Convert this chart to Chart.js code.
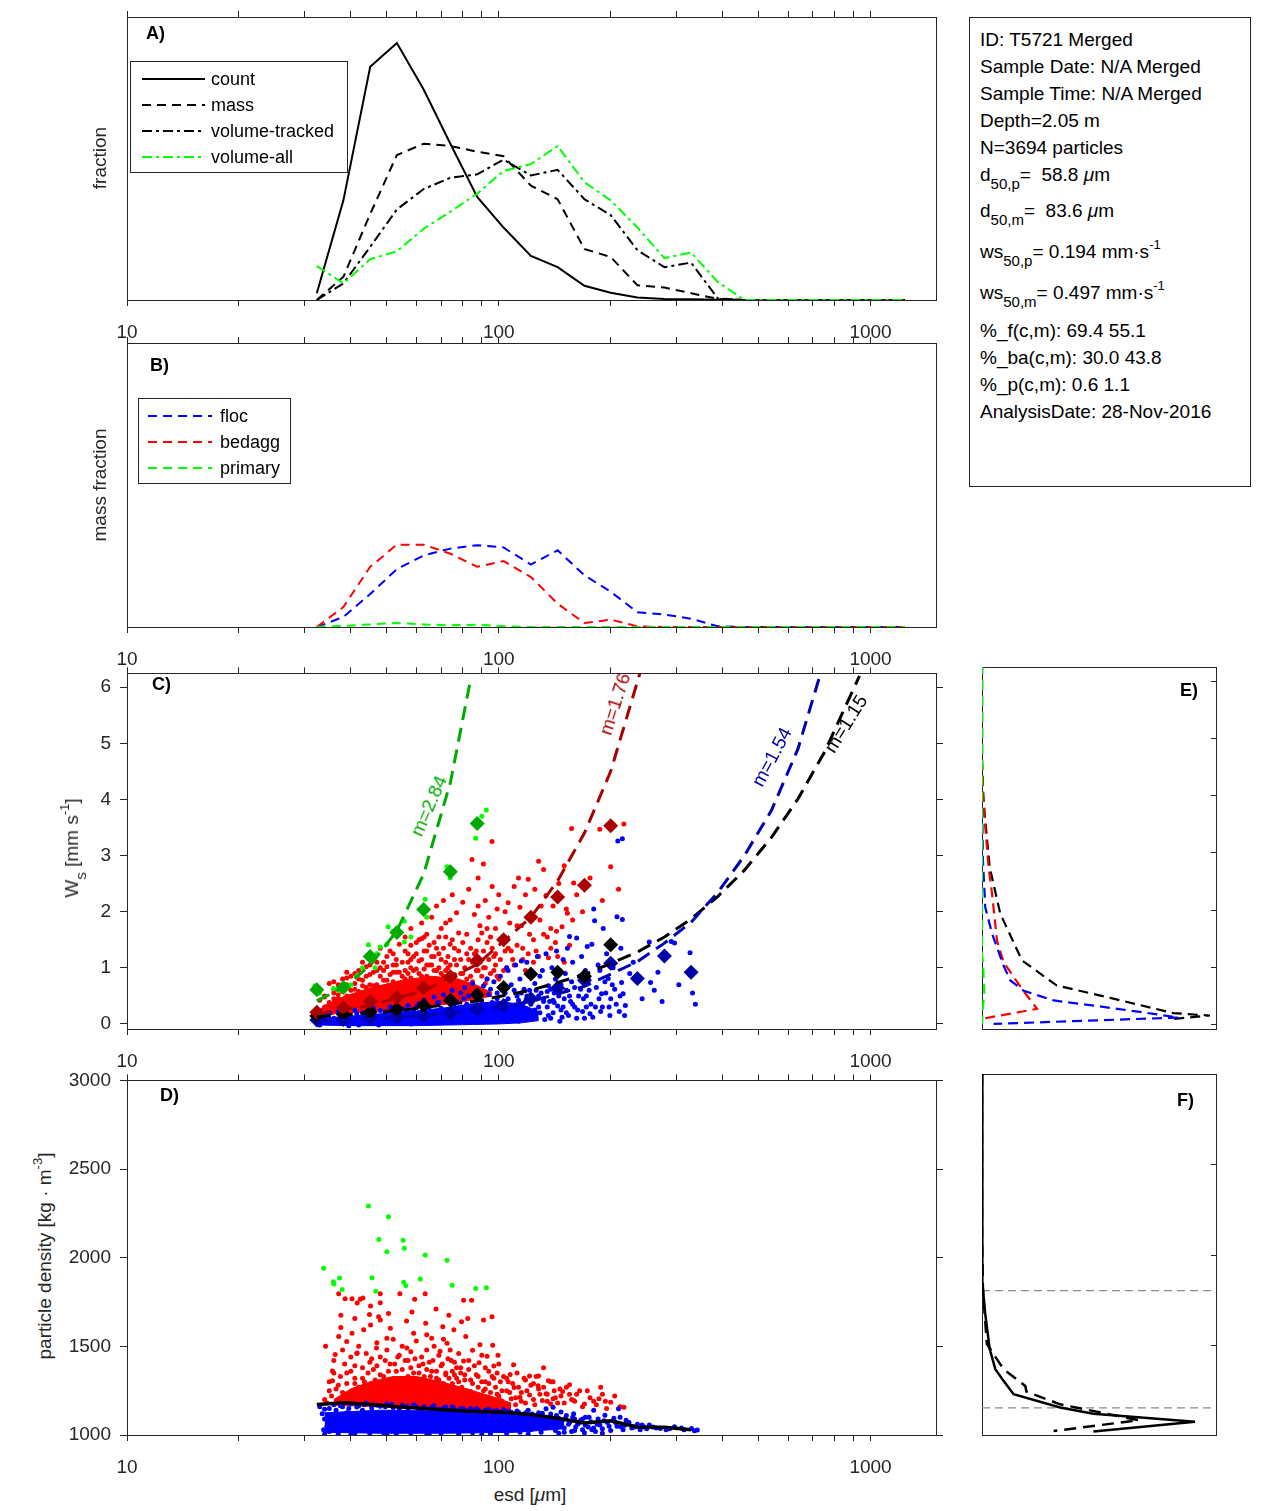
<!DOCTYPE html>
<html>
<head>
<meta charset="utf-8">
<script src="https://cdn.jsdelivr.net/npm/chart.js@4.4.0/dist/chart.umd.min.js"></script>
<style>
  body { margin: 0; background: #fff; width: 1270px; height: 1511px; position: relative; overflow: hidden;
         font-family: "Liberation Sans", Arial, Helvetica, sans-serif; color: #262626; }
  canvas { position: absolute; }
  .t { position: absolute; white-space: pre; font-size: 19px; line-height: 27px; }
  .rot { position: absolute; white-space: pre; font-size: 19px; transform: translate(-50%, -50%) rotate(var(--r)); }
  .pl { position: absolute; font-weight: bold; font-size: 18px; color: #000; transform: translateY(-50%); }
  .sb { font-size: 15px; position: relative; top: 8px; }
  .sp { font-size: 13px; position: relative; top: -9px; }
  #info { position: absolute; left: 969px; top: 17px; width: 282px; height: 470px; box-sizing: border-box;
          border: 1px solid #262626; color: #000; }
  #info .t { left: 10px; }
</style>
</head>
<body>
<canvas id="cA"></canvas>
<canvas id="cB"></canvas>
<canvas id="cC"></canvas>
<canvas id="cD"></canvas>
<canvas id="cE"></canvas>
<canvas id="cF"></canvas>

<!-- axis titles -->
<div class="rot" style="left:100px;top:158px;--r:-90deg">fraction</div>
<div class="rot" style="left:100px;top:485px;--r:-90deg">mass fraction</div>
<div class="rot" style="left:72px;top:848px;--r:-90deg">W<span class="sb">s</span> [mm s<span class="sp">-1</span>]</div>
<div class="rot" style="left:45px;top:1256px;--r:-90deg">particle density [kg · m<span class="sp">-3</span>]</div>
<div class="rot" style="left:530px;top:1495px;--r:0deg">esd [<i>μ</i>m]</div>

<!-- panel letters -->
<div class="pl" style="left:146px;top:33px">A)</div>
<div class="pl" style="left:150px;top:365px">B)</div>
<div class="pl" style="left:152px;top:684px">C)</div>
<div class="pl" style="left:160px;top:1095px">D)</div>
<div class="pl" style="left:1180px;top:690px">E)</div>
<div class="pl" style="left:1177px;top:1100px">F)</div>

<!-- fit annotations -->
<div class="rot" style="left:429px;top:806px;--r:-66deg;color:#00aa00">m=2.84</div>
<div class="rot" style="left:615px;top:704px;--r:-72deg;color:#aa0000">m=1.76</div>
<div class="rot" style="left:772px;top:757px;--r:-62deg;color:#0000aa">m=1.54</div>
<div class="rot" style="left:846px;top:724px;--r:-58deg;color:#000">m=1.15</div>

<div id="info">
  <div class="t" style="top:8px">ID: T5721 Merged</div>
  <div class="t" style="top:35px">Sample Date: N/A Merged</div>
  <div class="t" style="top:62px">Sample Time: N/A Merged</div>
  <div class="t" style="top:89px">Depth=2.05 m</div>
  <div class="t" style="top:116px">N=3694 particles</div>
  <div class="t" style="top:143px">d<span class="sb">50,p</span>=  58.8 <i>μ</i>m</div>
  <div class="t" style="top:179px">d<span class="sb">50,m</span>=  83.6 <i>μ</i>m</div>
  <div class="t" style="top:220px">ws<span class="sb">50,p</span>= 0.194 mm·s<span class="sp">-1</span></div>
  <div class="t" style="top:261px">ws<span class="sb">50,m</span>= 0.497 mm·s<span class="sp">-1</span></div>
  <div class="t" style="top:299px">%_f(c,m): 69.4 55.1</div>
  <div class="t" style="top:326px">%_ba(c,m): 30.0 43.8</div>
  <div class="t" style="top:353px">%_p(c,m): 0.6 1.1</div>
  <div class="t" style="top:380px">AnalysisDate: 28-Nov-2016</div>
</div>

<script>
// ---------- data ----------
// size bin centres (esd, um)
const binsUm = [32.4, 38.2, 45.1, 53.2, 62.8, 74.1, 87.5, 103, 122, 144, 170, 200, 236, 279, 329,
                388, 458, 541, 638, 753, 888, 1048, 1237];

// panel A: size distributions (fractions)
const countFrac      = [0.006, 0.088, 0.206, 0.227, 0.186, 0.138, 0.091, 0.064, 0.039, 0.029, 0.0126, 0.0064, 0.0023, 0.0009, 0.0006, 0.0003, 0, 0, 0, 0, 0, 0, 0];
const massFrac       = [0, 0.0205, 0.076, 0.128, 0.138, 0.136, 0.131, 0.127, 0.101, 0.089, 0.045, 0.038, 0.013, 0.011, 0.006, 0.001, 0, 0, 0, 0, 0, 0, 0];
const volTrackedFrac = [0, 0.0147, 0.047, 0.080, 0.098, 0.108, 0.111, 0.124, 0.110, 0.115, 0.089, 0.075, 0.044, 0.029, 0.033, 0.0015, 0, 0, 0, 0, 0, 0, 0];
const volAllFrac     = [0.030, 0.0147, 0.036, 0.043, 0.063, 0.078, 0.094, 0.114, 0.120, 0.136, 0.104, 0.088, 0.064, 0.037, 0.042, 0.016, 0, 0, 0, 0, 0, 0, 0];

// panel B: mass fraction per class
const flocMass    = [0, 0.0088, 0.029, 0.051, 0.063, 0.069, 0.072, 0.070, 0.055, 0.0675, 0.0455, 0.031, 0.013, 0.011, 0.0073, 0.0006, 0, 0, 0, 0, 0, 0, 0];
const bedaggMass  = [0, 0.0176, 0.053, 0.0725, 0.0725, 0.0645, 0.053, 0.058, 0.044, 0.0205, 0.0035, 0.0065, 0.0006, 0, 0, 0, 0, 0, 0, 0, 0, 0, 0];
const primaryMass = [0, 0.001, 0.0023, 0.0035, 0.0023, 0.0015, 0.002, 0.0006, 0, 0, 0, 0, 0, 0, 0, 0, 0, 0, 0, 0, 0, 0, 0];

// panel C: settling velocity (mm/s), binned medians (diamonds)
const primaryWsMed = [0.61, 0.65, 1.20, 1.63, 2.04, 2.71, 3.57];
const bedaggWsMed  = [0.21, 0.29, 0.40, 0.47, 0.64, 0.84, 1.13, 1.50, 1.90, 2.26, 2.47, 3.53];
const allWsMed     = [0.14, 0.17, 0.21, 0.26, 0.33, 0.42, 0.52, 0.65, 0.89, 0.92, 0.85, 1.41];
const flocWsMed    = [0.07, 0.08, 0.10, 0.12, 0.15, 0.19, 0.26, 0.33, 0.45, 0.64, 0.78, 1.08, 0.81, 1.21, 0.92];

// panel C: fitted curves (esd, ws) pairs
const fitPrimary = [32.4,0.41, 38.2,0.65, 45.1,1.04, 53.2,1.66, 62.8,2.67, 74.1,4.3, 83.5,6.05];
const fitBedagg  = [32.4,0.18, 45.1,0.33, 62.8,0.59, 87.5,1.06, 122,1.9, 144,2.55, 170,3.4, 200,4.5, 241,6.3, 250,6.7];
const fitFloc    = [32.4,0.05, 53.2,0.11, 87.5,0.24, 122,0.40, 170,0.67, 236,1.11, 279,1.44, 329,1.81, 388,2.34, 458,3.0, 541,3.8, 638,4.9, 738,6.3, 760,6.6];
const fitAll     = [32.4,0.13, 53.2,0.23, 87.5,0.41, 122,0.60, 170,0.88, 236,1.28, 279,1.55, 329,1.87, 388,2.27, 458,2.74, 541,3.32, 638,4.01, 753,4.85, 934,6.2];

// panel C: particles (esd, ws) pairs
const bedaggWsPts = [
  33,0.42, 34,0.5, 35,0.38, 36,0.55, 37,0.45, 34,0.3, 36,0.62, 38,0.58, 33.5,0.25, 35.5,0.2,
  39,0.7, 40,0.85, 41,0.62, 42,0.95, 43,0.78, 44,0.55, 40,0.45, 42,0.35, 44,1.02, 39,0.92, 45,0.88, 43,0.68,
  46,1.2, 47,0.95, 48,1.35, 49,1.1, 50,0.78, 51,1.3, 52,0.92, 53,1.15, 54,1.42, 55,0.85, 47,0.7, 49,0.6, 52,1.05, 46,0.5, 50,1.02, 54,0.72,
  56,1.55, 57,1.25, 58,1.7, 59,0.95, 60,1.45, 61,1.12, 62,1.8, 63,1.3, 64,1.6, 65,1.05, 57,0.9, 60,0.72, 63,0.98, 58,1.15, 62,1.52,
  66,1.9, 67,1.45, 68,2.1, 69,1.25, 70,1.7, 71,2.2, 72,1.55, 73,1.0, 74,1.85, 75,2.3, 76,1.35, 77,1.98, 78,1.62, 79,1.15, 80,2.17, 68,0.95, 72,1.1, 76,0.88, 66,1.2, 74,1.42,
  82,1.6, 83,2.4, 84.7,2.93, 86,1.95, 87,1.3, 88,2.6, 89,1.75, 90.9,2.85, 92,2.2, 93,1.45, 94,1.9, 95.9,3.25, 96,2.45, 97,1.2, 98,1.7, 99,2.05, 85,1.1, 91,1.0, 95,1.55, 100,2.3, 88,2.1, 82,1.25, 90,1.62, 97,0.95,
  102,1.5, 104,2.0, 106,2.16, 108,1.3, 110,2.45, 112,1.75, 114,2.08, 115,1.75, 116,1.15, 118,2.3, 120,2.58, 121,1.6, 123,1.95, 125,2.4, 126,1.3, 128,2.9, 129,1.85, 105,1.0, 110,1.05, 118,0.95, 124,1.1, 130,2.1, 107,1.8, 113,2.6,
  132,2.75, 134,2.29, 136,1.18, 138,1.7, 140,2.1, 142,1.45, 145,2.5, 148,1.73, 150,2.82, 152,2.05, 153,1.97, 155,1.4, 157,3.48, 159,2.51, 135,1.55, 144,1.2, 150,1.1, 158,1.85,
  162,2.3, 168,2.0, 176,2.6, 187,3.47, 190,2.2, 200,2.8, 210,2.4, 217,3.56,
  36,0.75, 38,0.8, 41,0.72, 45,0.7, 48,0.85, 51,0.68, 53,0.92, 56,0.8, 58,1.0, 61,0.9, 64,0.85, 67,0.95, 70,0.9, 73,0.78, 77,1.05,
  80,0.9, 84,0.85, 88,0.95, 93,0.8, 37,0.33, 44,0.4, 52,0.45, 60,0.52, 70,0.55, 82,0.6, 92,0.72, 100,0.8, 104,1.3, 98,1.05,
  33,0.6, 34,0.48, 35,0.72, 35,0.3, 36,0.45, 37,0.7, 37,0.52, 38,0.38, 38,0.68, 39,0.5, 39,0.82, 40,0.6, 40,0.32, 41,0.48, 41,0.9,
  42,0.58, 42,0.8, 43,0.45, 43,1.1, 44,0.65, 44,0.85, 45,0.5, 45,1.05, 46,0.68, 46,0.92, 47,0.55, 47,1.1, 48,0.62, 48,1.0, 49,0.78,
  49,0.95, 50,0.55, 50,1.2, 51,0.88, 51,0.6, 52,0.75, 52,1.25, 53,0.6, 53,1.05, 54,0.92, 54,0.58, 55,1.1, 55,0.68, 56,0.95, 56,1.3,
  57,0.62, 57,1.1, 58,0.82, 58,1.4, 59,0.7, 59,1.2, 60,0.98, 60,1.25, 61,0.68, 61,1.5, 62,0.85, 62,1.15, 63,0.7, 63,1.55, 64,1.05,
  64,1.3, 65,0.8, 65,1.4, 66,0.75, 66,1.05, 67,1.2, 67,0.7, 68,1.35, 68,0.8, 69,1.0, 69,1.55, 70,0.72, 70,1.15, 71,1.35, 71,0.85,
  72,0.95, 72,1.8, 73,1.2, 73,0.65, 74,1.05, 75,0.8, 75,1.5, 76,1.15, 77,0.75, 78,1.3, 79,0.9, 80,1.45, 81,1.0, 82,0.8, 83,1.15,
  84,1.35, 85,0.75, 86,1.25, 87,0.95, 88,1.5, 89,1.1, 90,0.85, 91,1.3, 92,1.0, 93,1.7, 94,1.15, 95,0.9, 96,1.35, 98,1.25, 99,0.85,
  101,1.15, 103,0.95, 106,1.35, 109,1.15, 112,1.4, 116,1.35, 120,1.25, 124,1.5, 128,1.2, 132,1.6, 138,1.35, 143,1.65
];
const flocWsPts = [
  33,0.18, 35,0.2, 37,0.22, 39,0.15, 41,0.25, 43,0.2, 46,0.28, 48,0.24, 51,0.3, 54,0.27, 57,0.33, 59,0.25, 34,0.05, 38,0.02, 42,-0.02, 45,0.08,
  50,0.05, 55,0.1, 58,0.0, 36,0.1, 40,0.12, 44,0.14, 52,0.16, 56,0.2,
  61,0.36, 63,0.42, 65,0.3, 67,0.48, 69,0.38, 71,0.52, 73,0.44, 75,0.6, 77,0.4, 79,0.55, 81,0.65, 83,0.5, 85,0.72, 87,0.58, 89,0.45, 91,0.68,
  93,0.8, 95,0.62, 97,0.75, 99,0.55, 62,0.15, 68,0.1, 74,0.2, 80,0.25, 86,0.12, 92,0.3, 98,0.2,
  101,0.85, 103,0.62, 104,0.4, 106,0.95, 108,0.7, 109,0.25, 111,1.05, 112,0.5, 114,0.8, 116,0.35, 117,0.62, 119,1.1, 120,0.15, 122,0.9, 124,0.45,
  125,0.72, 127,1.2, 128,0.3, 130,0.55, 131,0.95, 133,0.08, 134,1.25, 136,0.68, 137,0.4, 139,1.0, 140,0.2, 142,0.8, 143,1.3, 145,0.5, 146,0.95,
  148,0.12, 149,1.15, 102,0.2, 107,0.1, 113,0.05, 118,0.15, 126,0.1, 135,0.3, 141,0.55, 147,0.7, 105,1.0, 115,1.12, 123,0.2, 129,0.85, 138,0.62,
  100,0.35, 103,0.15, 106,0.45, 110,0.3, 112,0.22, 115,0.55, 118,0.4, 121,0.6, 125,0.25, 128,0.5, 132,0.4, 136,0.15, 140,0.42, 144,0.32, 147,0.25,
  150,0.45, 152,0.6, 158,0.35, 164,0.5, 172,0.3,
  151,0.9, 153,1.35, 155,1.56, 156,0.4, 158,1.1, 160,0.65, 162,1.53, 163,0.25, 165,0.85, 167,1.2, 169,0.45, 171,0.95, 173,1.38, 175,0.6, 178,1.42,
  180,2.05, 181,1.84, 182,0.3, 185,1.05, 187,0.95, 188,0.22, 189,0.54, 191,1.7, 193,0.75, 195,1.25, 197,0.81, 198,0.3, 200,0.45, 203,1.0, 205,0.62,
  208,1.91, 209,3.26, 211,0.22, 213,1.35, 214,0.74, 215,1.86, 216,0.54, 219,0.33, 215,3.3, 154,0.15, 170,0.1, 176,0.18,
  225,0.9, 230,1.1, 243,0.45, 254,1.46, 256,0.74, 262,0.6, 268,0.92, 275,0.4, 291,1.47, 297,1.44, 305,0.7, 327,1.27, 332,0.55, 338,0.35,
  32.5,0.08, 33,-0.02, 34,0.14, 35.5,0.02, 37.5,0.12, 39.5,-0.03, 41.5,0.18, 43.5,0.05, 45.5,0.2, 47.5,-0.02, 49.5,0.22, 53,0.03, 55.5,0.26,
  58.5,0.12, 60,0.3, 62.5,0.05, 64,0.33, 66,0.2, 68.5,0.38, 70,0.28, 72,0.1, 74.5,0.42, 76,0.3, 78,0.15, 80.5,0.45, 82,0.35, 84,0.05, 86.5,0.5,
  88,0.25, 90,0.38, 92.5,0.1, 94,0.52, 96,0.38, 99,0.45, 101,0.1, 104,0.55, 107,0.32, 110,0.6, 113,0.42, 116,0.08, 119,0.5, 122,0.35, 126,0.6,
  129,0.2, 132,0.45, 135,0.58, 138,0.1, 141,0.38, 144,0.6, 146,0.05, 149,0.3, 152,0.2, 155,0.5, 157,0.75, 160,0.3, 162,0.1, 166,0.62, 168,0.22,
  172,0.5, 174,0.8, 177,0.35, 179,0.12, 183,0.65, 186,0.45, 190,0.3, 194,0.55, 199,0.15, 202,0.7, 207,0.35, 212,0.5, 218,0.15
];
const primaryWsPts = [
  32,0.68, 33,0.55, 35.9,0.63, 37,0.6, 40,0.7, 41.6,0.86, 43,1.0, 44.6,1.41, 46.5,1.0, 47,1.25, 48,1.37, 50,1.42, 50.4,1.73, 52,1.65,
  55.7,1.46, 55.7,1.83, 58,1.55, 63.4,2.22, 64,1.9, 72.6,2.8, 74,2.6, 86.7,3.31, 90,3.7, 92.6,3.81
];
// solid inner part of the clouds in C (esd, upper ws, lower ws)
const flocWsCoreD  = [33, 40, 48, 60, 72, 85, 100, 115, 128];
const flocWsCoreUp = [0.1, 0.14, 0.18, 0.23, 0.29, 0.36, 0.4, 0.35, 0.22];
const flocWsCoreLo = [-0.02, -0.03, -0.03, -0.03, -0.02, -0.01, 0.0, 0.02, 0.06];
const bedaggWsCoreD  = [34, 38, 45, 55, 66, 78, 88, 96];
const bedaggWsCoreUp = [0.33, 0.48, 0.64, 0.78, 0.85, 0.8, 0.68, 0.55];
const bedaggWsCoreLo = [0.17, 0.19, 0.22, 0.26, 0.32, 0.38, 0.45, 0.5];

// panel D: particle density (kg/m3)
const rhoMedian = [1172, 1182, 1172, 1160, 1150, 1140, 1133, 1128, 1115, 1095, 1068, 1080, 1045, 1044, 1030];
const bedaggRhoPts = [
  37.1,1796, 38.6,1768, 40.3,1768, 42.4,1765, 43.1,1772, 41.6,1744, 45.2,1728, 48,1796, 48,1746, 48,1648, 54.2,1796, 59.4,1765, 63.4,1796,
  80.4,1760, 84.5,1760, 67.8,1710, 73.4,1676, 95.9,1667, 91,1648, 82.5,1657, 37.6,1676, 37.6,1607, 34.2,1500, 35.7,1361, 35.7,1306, 36.3,1454,
  37.1,1556, 40.3,1574, 44.9,1680, 45.2,1621, 47.5,1667, 50.5,1685, 51.1,1602, 56.5,1643, 58.4,1694, 63.6,1630, 64,1565, 70.7,1611, 75.7,1593,
  79.4,1639, 80.4,1417, 85,1478, 88.5,1407, 96.3,1506, 99.5,1450, 97,1389, 109.6,1396, 107.3,1341, 110,1268, 121,1333, 128,1333, 136,1306,
  127.6,1278, 134,1232, 148.5,1245, 155,1283, 159,1194, 186,1204, 193.5,1191, 217,1157, 140,1204, 114,1213, 101,1194, 96,1185, 91,1213, 82,1213,
  41,1657, 43.3,1593, 50,1546, 59,1574, 66,1546, 72.6,1518, 81.5,1556, 69.5,1472, 56.6,1491, 46.9,1491, 39,1528, 41.6,1463, 89,1509, 93,1444,
  36,1420, 38,1480, 39,1350, 40,1440, 41,1390, 42,1500, 43,1320, 44,1460, 45,1410, 46,1370, 47,1520, 48,1440, 49,1330, 50,1480, 51,1400, 52,1540,
  53,1360, 54,1450, 55,1500, 56,1320, 57,1420, 58,1470, 59,1350, 60,1530, 61,1390, 62,1440, 63,1330, 64,1480, 65,1410, 66,1360, 67,1500, 68,1320,
  69,1450, 70,1390, 71,1540, 72,1340, 73,1430, 74,1480, 75,1360, 76,1410, 77,1320, 78,1460, 79,1380, 81,1340, 83,1420, 84,1310, 86,1390, 88,1330,
  90,1450, 92,1300, 94,1360, 97,1320, 100,1400, 103,1330, 106,1300, 112,1350, 118,1310, 124,1290, 132,1380, 140,1300,
  34,1200, 35,1250, 37,1280, 39,1210, 41,1290, 43,1240, 47,1265, 52,1285, 58,1270, 63,1250, 68,1230, 73,1260, 78,1215, 84,1245, 88,1200, 92,1260,
  96,1175, 99,1230, 102,1190, 105,1250, 108,1205, 111,1170, 115,1240, 118,1180, 121,1225, 125,1170, 128,1260, 131,1195, 135,1230, 138,1175,
  142,1210, 146,1260, 150,1180, 155,1230, 160,1190, 165,1250, 170,1175, 176,1210, 183,1170, 190,1230, 200,1185,
  34.5,1180, 35,1300, 35.5,1220, 36,1350, 36.5,1260, 37,1190, 37.5,1330, 38,1240, 38.5,1400, 39,1290, 39.5,1180, 40,1360, 40.5,1230, 41,1320,
  41.5,1460, 42,1270, 42.5,1190, 43,1380, 43.5,1300, 44,1220, 44.5,1350, 45,1270, 45.5,1430, 46,1200, 46.5,1310, 47,1390, 47.5,1240, 48,1340,
  48.5,1190, 49,1280, 49.5,1420, 50,1230, 50.5,1360, 51,1300, 51.5,1185, 52,1250, 52.5,1400, 53,1310, 53.5,1440, 54,1200, 54.5,1290, 55,1370,
  55.5,1230, 56,1420, 56.5,1270, 57,1330, 57.5,1190, 58,1380, 58.5,1250, 59,1310, 59.5,1430, 60,1210, 60.5,1290, 61,1350, 61.5,1180, 62,1260,
  62.5,1400, 63,1300, 63.5,1225, 64,1370, 64.5,1270, 65,1190, 65.5,1330, 66,1240, 66.5,1420, 67,1290, 67.5,1200, 68,1360, 68.5,1260, 69,1310,
  69.5,1180, 70,1240, 70.5,1400, 71,1290, 71.5,1210, 72,1350, 72.5,1270, 73,1190, 73.5,1320, 74,1240, 74.5,1420, 75,1290, 75.5,1200, 76,1340,
  76.5,1260, 77,1380, 77.5,1175, 78,1300, 78.5,1230, 79,1350, 79.5,1270, 80,1190, 81,1310, 82,1250, 83,1370, 84,1200, 85,1290, 86,1230, 87,1340,
  88,1270, 89,1180, 90,1300, 91,1250, 92,1380, 93,1210, 94,1290, 95,1240, 96,1330, 97,1190, 98,1270, 99,1350, 100,1220, 101,1300, 102,1250,
  104,1170, 105,1320, 107,1240, 109,1290, 111,1210, 113,1270, 115,1190, 117,1320, 119,1250, 122,1280, 124,1200, 126,1330, 129,1230, 132,1270,
  135,1190, 138,1300, 141,1250, 144,1180, 147,1220, 152,1270, 157,1200, 162,1230, 168,1160, 173,1250, 180,1190, 188,1270, 195,1150, 205,1220, 212,1160
];
const flocRhoPts = [
  33,1160, 34,1145, 35,1020, 36,1170, 37,1005, 38,1160, 39,1125, 40,1175, 41,1010, 42,1165, 43,1140, 44,1180, 45,1008, 46,1170, 48,1162, 49,1012,
  50,1175, 52,1155, 53,1006, 55,1168, 57,1150, 58,1010, 60,1160, 35,1100, 38,1060, 42,1080, 47,1040, 51,1095, 56,1070, 59,1120,
  62,1148, 64,1008, 66,1155, 68,1130, 70,1010, 72,1158, 74,1120, 76,1145, 78,1005, 80,1150, 83,1135, 85,1012, 87,1148, 90,1125, 92,1140, 95,1008,
  97,1135, 100,1120, 103,1142, 105,1010, 108,1128,
  112,1135, 114,1015, 117,1120, 120,1140, 122,1030, 125,1110, 128,1125, 130,1015, 133,1100, 134,1148, 136,1050, 138,1118, 140,1157, 142,1025,
  145,1095, 147,1130, 150,1040, 152,1110, 155,1070, 157,1020, 159,1120, 160,1090,
  163,1060, 166,1083, 168,1030, 171,1100, 174,1045, 177,1075, 180,1139, 182,1020, 185,1090, 187,1056, 190,1035, 193,1111, 196,1070, 200,1025,
  204,1095, 208,1050, 210,1148, 213,1046, 216,1030, 220,1083, 228,1040, 236,1060, 243,1056, 250,1035, 254,1056, 260,1045, 272,1037, 282,1030,
  297,1046, 310,1040, 330,1037, 336,1024,
  34,1005, 40,1002, 50,1003, 65,1004, 90,1003, 120,1006, 145,1010,
  33.5,1120, 34,1090, 34.5,1050, 35,1150, 33.8,1030, 36.5,1140, 37.5,1165, 39.5,1150, 41.5,1158, 43.5,1170, 45.5,1152, 47,1168, 49.5,1160,
  51.5,1172, 54,1150, 56.5,1162, 59,1170, 61,1142, 63,1160, 65,1150, 67,1165, 69,1145, 71,1152, 73,1140, 75,1160, 77,1135, 79,1148, 81,1140,
  84,1150, 86,1132, 88,1142, 91,1130, 94,1145, 96,1125, 99,1138, 102,1130, 106,1135, 110,1120, 113,1128, 116,1112, 119,1130, 123,1118, 127,1105,
  131,1122, 135,1100, 139,1090, 143,1110, 148,1080, 151,1095, 154,1060, 158,1100, 161,1045, 165,1070, 168,1090, 171,1055, 175,1100, 178,1030,
  184,1060, 192,1080, 198,1050, 206,1070, 212,1100, 218,1055, 224,1070, 232,1045, 240,1030, 246,1045, 265,1040, 288,1035, 315,1030, 342,1028,
  150,1015, 160,1025, 170,1012, 180,1040, 190,1010
];
const primaryRhoPts = [
  44.6,2291, 50.5,2231, 47.6,2102, 55.3,2099, 50,2033, 55.7,2054, 63.4,2015, 72.6,1985, 33.8,1941, 35.9,1865, 36,1852, 37.3,1885, 37.9,1821,
  45.6,1887, 46.7,1811, 55.5,1861, 56.2,1843, 61.5,1880, 74.9,1844, 86.7,1826, 92.6,1831
];
const flocRhoCoreD  = [34, 48, 72, 110, 150];
const flocRhoCoreUp = [1125, 1140, 1135, 1118, 1090];
const flocRhoCoreLo = [1015, 1010, 1010, 1015, 1035];
const bedaggRhoCoreD  = [36, 40, 45, 52, 60, 70, 82, 95, 108];
const bedaggRhoCoreUp = [1200, 1260, 1300, 1330, 1330, 1300, 1260, 1220, 1180];
const bedaggRhoCoreLo = [1166, 1165, 1162, 1158, 1152, 1146, 1142, 1138, 1136];

// panel E: ws distributions (relative pdf, ws)
const ePdfAll     = [0,6.3, 0,4.6, 0.004,4.03, 0.014,3.56, 0.033,2.74, 0.078,1.93, 0.171,1.11, 0.32,0.67, 0.548,0.455, 0.818,0.187, 0.974,0.146, 0.80,0.08];
const ePdfFloc    = [0,6.3, 0,4.03, 0.004,2.86, 0.014,2.04, 0.043,1.58, 0.092,1.02, 0.121,0.76, 0.178,0.58, 0.306,0.41, 0.477,0.32, 0.733,0.175, 0.84,0.11, 0.05,0.0];
const ePdfBedagg  = [0,6.3, 0,4.6, 0.007,3.91, 0.014,3.44, 0.028,2.74, 0.043,2.28, 0.064,1.46, 0.092,1.08, 0.171,0.61, 0.235,0.263, 0,0.088];
const ePdfPrimary = [0,6.3, 0,1.2, 0.004,1.1, 0.01,0.53, 0.004,0.3, 0,0.0];

// panel F: density distributions (relative pdf, density)
const fPdfCount = [0,3000, 0,2300, 0.003,1850, 0.008,1750, 0.014,1670, 0.033,1476, 0.057,1365, 0.092,1300, 0.135,1226, 0.334,1152, 0.476,1118, 0.91,1074, 0.476,1019];
const fPdfMass  = [0,3000, 0,2100, 0.004,1800, 0.021,1504, 0.092,1365, 0.185,1272, 0.19,1240, 0.334,1170, 0.67,1082, 0.306,1022];
const fDensityRefs = [1800, 1150];

// axes
const xMin = 10, xMax = 1500;
const xTickValues = [10, 20, 30, 40, 50, 60, 70, 80, 90, 100, 200, 300, 400, 500, 600, 700, 800, 900, 1000];
const xTickLabels = [10, 100, 1000];
const wsTicks  = [0, 1, 2, 3, 4, 5, 6];
const rhoTicks = [1000, 1500, 2000, 2500, 3000];

// ---------- helpers ----------
const FONT = '"Liberation Sans", Arial, Helvetica, sans-serif';
const INK = '#262626';
const M = { l: 60, r: 14, t: 14, b: 46 };

Chart.defaults.font.family = FONT;
Chart.defaults.color = INK;

function pts(flat) {
  const out = [];
  for (let i = 0; i < flat.length; i += 2) out.push({ x: flat[i], y: flat[i + 1] });
  return out;
}
function onBins(vals) {
  return vals.map((v, i) => ({ x: binsUm[i], y: v }));
}
function zip(xs, ys) {
  return xs.map((x, i) => ({ x: x, y: ys[i] }));
}

function lineDs(data, color, dash, width, order, label) {
  return { label: label, data: data, showLine: true, borderColor: color, backgroundColor: color,
           borderWidth: width, borderDash: dash, pointRadius: 0, fill: false, tension: 0, order: order };
}
function dotDs(data, color, order) {
  return { data: data, showLine: false, pointRadius: 2.5, pointBorderWidth: 0,
           pointBackgroundColor: color, backgroundColor: color, order: order };
}
function diaDs(data, color, order) {
  return { data: data, showLine: false, pointStyle: 'rectRot', pointRadius: 7.5, pointBorderWidth: 0,
           pointBackgroundColor: color, backgroundColor: color, order: order };
}
// solid inner part of a cloud: area between an upper and a lower edge
function coreDs(xs, up, lo, color, order) {
  return [
    { data: zip(xs, up), showLine: true, borderColor: color, borderWidth: 1, pointRadius: 0,
      fill: '+1', backgroundColor: color, order: order },
    { data: zip(xs, lo), showLine: true, borderColor: color, borderWidth: 1, pointRadius: 0,
      fill: false, order: order }
  ];
}

function logX(pos, labels) {
  return {
    type: 'logarithmic', position: pos, min: xMin, max: xMax,
    afterBuildTicks: s => { s.ticks = xTickValues.map(v => ({ value: v })); },
    afterFit: s => { s.height = pos === 'bottom' ? M.b : M.t; },
    border: { display: true, color: INK, width: 1 },
    grid: { display: true, drawOnChartArea: false, drawTicks: true, tickLength: 6, color: INK },
    ticks: { display: labels, autoSkip: false, maxRotation: 0, minRotation: 0, padding: 15, color: INK,
             font: { size: 19, family: FONT },
             callback: v => xTickLabels.includes(v) ? String(v) : '' }
  };
}
function plainX(pos) {
  return {
    type: 'linear', position: pos, min: 0, max: 1,
    afterFit: s => { s.height = pos === 'bottom' ? M.b : M.t; },
    border: { display: true, color: INK, width: 1 },
    grid: { display: false }, ticks: { display: false }
  };
}
function linY(pos, min, max, tickVals, labels, marks) {
  const ax = {
    type: 'linear', position: pos, min: min, max: max,
    afterFit: s => { s.width = pos === 'left' ? M.l : M.r; },
    border: { display: true, color: INK, width: 1 },
    grid: { display: marks, drawOnChartArea: false, drawTicks: true, tickLength: 7, color: INK },
    ticks: { display: labels, padding: 9, color: INK, font: { size: 19, family: FONT }, callback: v => String(v) }
  };
  if (tickVals) ax.afterBuildTicks = s => { s.ticks = tickVals.map(v => ({ value: v })); };
  return ax;
}

// legend drawn inside the plot box, from the dataset styles
const boxLegend = {
  id: 'boxLegend',
  afterDraw(chart, args, o) {
    if (!o || !o.rows) return;
    const ctx = chart.ctx, a = chart.chartArea;
    ctx.save();
    ctx.fillStyle = '#fff';
    ctx.fillRect(a.left + o.x, a.top + o.y, o.w, o.h);
    ctx.strokeStyle = INK; ctx.lineWidth = 1;
    ctx.strokeRect(a.left + o.x + 0.5, a.top + o.y + 0.5, o.w, o.h);
    o.rows.forEach((di, k) => {
      const ds = chart.data.datasets[di];
      const y = a.top + o.y0 + k * o.dy;
      ctx.strokeStyle = ds.borderColor; ctx.lineWidth = ds.borderWidth;
      ctx.setLineDash(ds.borderDash || []);
      ctx.beginPath(); ctx.moveTo(a.left + o.lx0, y); ctx.lineTo(a.left + o.lx1, y); ctx.stroke();
      ctx.setLineDash([]);
      ctx.fillStyle = '#000'; ctx.font = '18px ' + FONT; ctx.textBaseline = 'middle';
      ctx.fillText(ds.label, a.left + o.tx, y + 1);
    });
    ctx.restore();
  }
};
// short inward ticks on the right edge (panels E, F)
const innerTicks = {
  id: 'innerTicks',
  afterDraw(chart, args, o) {
    if (!o || !o.on) return;
    const ctx = chart.ctx, a = chart.chartArea, s = chart.scales.y;
    ctx.save(); ctx.strokeStyle = INK; ctx.lineWidth = 1;
    s.ticks.forEach(t => {
      const py = Math.round(s.getPixelForValue(t.value)) + 0.5;
      ctx.beginPath(); ctx.moveTo(a.right, py); ctx.lineTo(a.right - 5, py); ctx.stroke();
    });
    ctx.restore();
  }
};

function makeChart(id, rect, datasets, scales, plugOpts) {
  const c = document.getElementById(id);
  c.width = rect.R - rect.L + M.l + M.r;
  c.height = rect.B - rect.T + M.t + M.b;
  c.style.left = (rect.L - M.l) + 'px';
  c.style.top = (rect.T - M.t) + 'px';
  return new Chart(c, {
    type: 'scatter',
    data: { datasets: datasets },
    options: {
      responsive: false, animation: false, events: [], devicePixelRatio: 1,
      layout: { padding: 0 },
      scales: scales,
      plugins: Object.assign({ legend: { display: false }, tooltip: { enabled: false } }, plugOpts || {})
    },
    plugins: [boxLegend, innerTicks]
  });
}

// ---------- panel A ----------
makeChart('cA', { L: 127, T: 17, R: 936, B: 300 }, [
  lineDs(onBins(countFrac), '#000', [], 2, 4, 'count'),
  lineDs(onBins(massFrac), '#000', [9, 6], 2, 3, 'mass'),
  lineDs(onBins(volTrackedFrac), '#000', [10, 4, 3, 4], 2, 2, 'volume-tracked'),
  lineDs(onBins(volAllFrac), '#00ff00', [10, 4, 3, 4], 2, 1, 'volume-all')
], {
  x: logX('bottom', true), x2: logX('top', false),
  y: linY('left', 0, 0.25, null, false, false), y2: linY('right', 0, 0.25, null, false, false)
}, { boxLegend: { x: 3, y: 44, w: 217, h: 111, y0: 62, dy: 26, lx0: 15, lx1: 78, tx: 84, rows: [0, 1, 2, 3] } });

// ---------- panel B ----------
makeChart('cB', { L: 127, T: 343, R: 936, B: 627 }, [
  lineDs(onBins(flocMass), '#0000ff', [9, 6], 2, 3, 'floc'),
  lineDs(onBins(bedaggMass), '#ff0000', [9, 6], 2, 2, 'bedagg'),
  lineDs(onBins(primaryMass), '#00ff00', [9, 6], 2, 1, 'primary')
], {
  x: logX('bottom', true), x2: logX('top', false),
  y: linY('left', 0, 0.25, null, false, false), y2: linY('right', 0, 0.25, null, false, false)
}, { boxLegend: { x: 11, y: 55, w: 152, h: 85, y0: 73, dy: 26, lx0: 21, lx1: 85, tx: 93, rows: [0, 1, 2] } });

// ---------- panel C ----------
makeChart('cC', { L: 127, T: 667, R: 936, B: 1029 }, [
  lineDs(pts(fitPrimary), '#00aa00', [14, 8], 3, 1),
  lineDs(pts(fitBedagg), '#aa0000', [14, 8], 3, 1),
  lineDs(pts(fitFloc), '#0000b4', [14, 8], 3, 1),
  lineDs(pts(fitAll), '#000000', [14, 8], 3, 1),
  diaDs(onBins(primaryWsMed), '#00aa00', 2),
  diaDs(onBins(bedaggWsMed), '#aa0000', 2),
  diaDs(onBins(allWsMed), '#000000', 2),
  diaDs(onBins(flocWsMed), '#0000a8', 3),
  dotDs(pts(primaryWsPts), '#00ff00', 4),
  dotDs(pts(flocWsPts), '#0000ff', 5),
  ...coreDs(flocWsCoreD, flocWsCoreUp, flocWsCoreLo, '#0000ff', 6),
  dotDs(pts(bedaggWsPts), '#ff0000', 7),
  ...coreDs(bedaggWsCoreD, bedaggWsCoreUp, bedaggWsCoreLo, '#ff0000', 8)
], {
  x: logX('bottom', true), x2: logX('top', false),
  y: linY('left', -0.09, 6.245, wsTicks, true, true), y2: linY('right', -0.09, 6.245, wsTicks, false, true)
});

// ---------- panel D ----------
makeChart('cD', { L: 127, T: 1074, R: 936, B: 1435 }, [
  lineDs(onBins(rhoMedian), '#000000', [], 3.5, 1),
  dotDs(pts(primaryRhoPts), '#00ff00', 2),
  dotDs(pts(flocRhoPts), '#0000ff', 3),
  ...coreDs(flocRhoCoreD, flocRhoCoreUp, flocRhoCoreLo, '#0000ff', 4),
  dotDs(pts(bedaggRhoPts), '#ff0000', 5),
  ...coreDs(bedaggRhoCoreD, bedaggRhoCoreUp, bedaggRhoCoreLo, '#ff0000', 6)
], {
  x: logX('bottom', true), x2: logX('top', false),
  y: linY('left', 1000, 3000, rhoTicks, true, true), y2: linY('right', 1000, 3000, rhoTicks, false, true)
});

// ---------- panel E ----------
makeChart('cE', { L: 982, T: 667, R: 1216, B: 1029 }, [
  lineDs(pts(ePdfPrimary), '#00ff00', [10, 6], 2.2, 1),
  lineDs(pts(ePdfFloc), '#0000ff', [10, 6], 2.2, 2),
  lineDs(pts(ePdfBedagg), '#ff0000', [10, 6], 2.2, 3),
  lineDs(pts(ePdfAll), '#000000', [10, 6], 2.2, 4)
], {
  x: plainX('bottom'), x2: plainX('top'),
  y: linY('left', -0.09, 6.245, wsTicks, false, false), y2: linY('right', -0.09, 6.245, wsTicks, false, false)
}, { innerTicks: { on: true } });

// ---------- panel F ----------
makeChart('cF', { L: 982, T: 1074, R: 1216, B: 1435 }, [
  lineDs(pts(fPdfCount), '#000000', [], 2.5, 1),
  lineDs(pts(fPdfMass), '#000000', [12, 7], 2.5, 2),
  lineDs([{ x: 0, y: fDensityRefs[0] }, { x: 1, y: fDensityRefs[0] }], '#8c8c8c', [8, 5], 1.2, 3),
  lineDs([{ x: 0, y: fDensityRefs[1] }, { x: 1, y: fDensityRefs[1] }], '#8c8c8c', [8, 5], 1.2, 3)
], {
  x: plainX('bottom'), x2: plainX('top'),
  y: linY('left', 1000, 3000, rhoTicks, false, false), y2: linY('right', 1000, 3000, rhoTicks, false, false)
}, { innerTicks: { on: true } });
</script>
</body>
</html>
